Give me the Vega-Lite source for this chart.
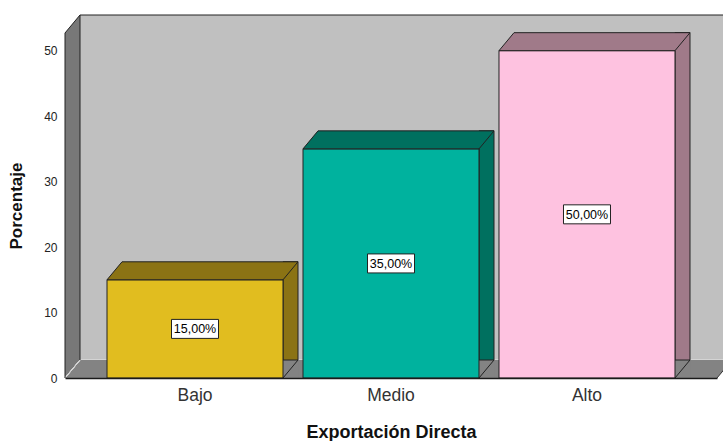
{
  "$schema": "https://vega.github.io/schema/vega-lite/v6.json",
  "width": 652,
  "height": 345,
  "autosize": {"type": "none"},
  "padding": {"left": 65, "top": 33, "right": 6, "bottom": 63},
  "background": "white",
  "config": {"view": {"stroke": null}, "font": "Liberation Sans"},
  "datasets": {
    "barras": [
      {"nivel": "Bajo", "porcentaje": 15, "etiqueta": "15,00%"},
      {"nivel": "Medio", "porcentaje": 35, "etiqueta": "35,00%"},
      {"nivel": "Alto", "porcentaje": 50, "etiqueta": "50,00%"}
    ],
    "marcas": [{"v": 0}, {"v": 10}, {"v": 20}, {"v": 30}, {"v": 40}, {"v": 50}],
    "uno": [{"k": 1}]
  },
  "resolve": {"scale": {"x": "independent", "y": "independent"}},
  "layer": [
    {
      "data": {"name": "uno"},
      "encoding": {
        "x": {"datum": 0, "type": "quantitative", "scale": {"domain": [0, 1], "nice": false, "zero": false}, "axis": null},
        "y": {"datum": 0, "type": "quantitative", "scale": {"domain": [0, 52.7], "nice": false}, "axis": null}
      },
      "layer": [
        {
          "mark": {"type": "rect", "fill": "#c0c0c0", "xOffset": 15, "x2Offset": 15, "yOffset": -18, "y2Offset": -18},
          "encoding": {"x2": {"datum": 1}, "y2": {"datum": 52.7}}
        },
        {
          "data": {"name": "marcas"},
          "transform": [{"filter": "datum.v > 0"}],
          "mark": {"type": "rule", "stroke": "#d4d4d4", "strokeWidth": 1, "xOffset": 15, "x2Offset": 15, "yOffset": -18},
          "encoding": {"x2": {"datum": 1}, "y": {"field": "v", "type": "quantitative"}}
        },
        {
          "mark": {"type": "rule", "stroke": "#222222", "strokeWidth": 1, "xOffset": 15, "x2Offset": 15, "yOffset": -18},
          "encoding": {"x2": {"datum": 1}, "y": {"datum": 52.7, "type": "quantitative"}}
        },
        {
          "mark": {"type": "point", "shape": "M0,0L652,0L667,-18L15,-18Z", "size": 4, "filled": true, "fill": "#838383", "strokeWidth": 0, "opacity": 1}
        },
        {
          "mark": {"type": "point", "shape": "M652,0L667,-18", "size": 4, "filled": false, "stroke": "#333333", "strokeWidth": 1, "opacity": 1}
        },
        {
          "mark": {"type": "point", "shape": "M0,0L0,-345L15,-363L15,-18Z", "size": 4, "filled": true, "fill": "#787878", "strokeWidth": 0, "opacity": 1}
        },
        {
          "data": {"name": "marcas"},
          "mark": {"type": "point", "shape": "M0,0L15,-18", "size": 4, "filled": false, "stroke": "#d4d4d4", "strokeWidth": 1, "opacity": 1},
          "encoding": {"y": {"field": "v", "type": "quantitative"}}
        },
        {
          "mark": {"type": "point", "shape": "M15,-18L15,-363L0,-345L0,0", "size": 4, "filled": false, "stroke": "#222222", "strokeWidth": 1, "opacity": 1}
        }
      ]
    },
    {
      "data": {"name": "barras"},
      "encoding": {
        "x": {
          "field": "nivel",
          "type": "nominal",
          "sort": ["Bajo", "Medio", "Alto"],
          "scale": {"paddingInner": 0.10204, "paddingOuter": 0.21429},
          "axis": {
            "title": "Exportación Directa",
            "titleFont": "Liberation Sans",
            "titleFontSize": 18,
            "titleFontWeight": "bold",
            "titleColor": "#111111",
            "titlePadding": 20,
            "labelFont": "Liberation Sans",
            "labelFontSize": 17.5,
            "labelColor": "#333333",
            "labelPadding": 8,
            "labelAngle": 0,
            "ticks": false,
            "domain": true,
            "domainColor": "#1a1a1a",
            "domainWidth": 1.5,
            "zindex": 1
          }
        }
      },
      "resolve": {"scale": {"y": "independent"}},
      "layer": [
        {
          "encoding": {
            "y": {
              "field": "porcentaje",
              "type": "quantitative",
              "scale": {"domain": [0, 52.7], "nice": false},
              "axis": {
                "orient": "left",
                "title": "Porcentaje",
                "titleFont": "Liberation Sans",
                "titleFontSize": 17,
                "titleFontWeight": "bold",
                "titleColor": "#111111",
                "titlePadding": 18,
                "labelFont": "Liberation Sans",
                "labelFontSize": 12,
                "labelColor": "#222222",
                "labelPadding": 8,
                "ticks": false,
                "domain": false,
                "grid": false,
                "values": [0, 10, 20, 30, 40, 50]
              }
            }
          },
          "layer": [
            {
              "mark": {"type": "bar", "width": 15, "xOffset": 95.5, "yOffset": -18, "stroke": "#222222", "strokeWidth": 1},
              "encoding": {
                "color": {"field": "nivel", "type": "nominal", "scale": {"domain": ["Bajo", "Medio", "Alto"], "range": ["#8b7314", "#00705f", "#a07a89"]}, "legend": null}
              }
            },
            {
              "mark": {"type": "point", "shape": "M88,0L103,-18L103.8,-18L103.8,0Z", "size": 4, "filled": true, "fill": "#838383", "strokeWidth": 0, "opacity": 1},
              "encoding": {"y": {"datum": 0, "type": "quantitative"}}
            },
            {
              "mark": {"type": "point", "shape": "M88,0L103,-18", "size": 4, "filled": false, "stroke": "#222222", "strokeWidth": 1, "opacity": 1},
              "encoding": {"y": {"datum": 0, "type": "quantitative"}}
            },
            {
              "mark": {"type": "bar", "stroke": "#222222", "strokeWidth": 1},
              "encoding": {
                "fill": {"field": "nivel", "type": "nominal", "scale": {"domain": ["Bajo", "Medio", "Alto"], "range": ["#e1bd1f", "#00b29e", "#fec2e0"]}, "legend": null}
              }
            },
            {
              "mark": {"type": "point", "shape": "M-88,0L88,0L103,-18L-73,-18Z", "size": 4, "filled": true, "stroke": "#222222", "strokeWidth": 1, "opacity": 1},
              "encoding": {
                "color": {"field": "nivel", "type": "nominal", "legend": null}
              }
            }
          ]
        },
        {
          "encoding": {
            "y": {"field": "porcentaje", "type": "quantitative", "scale": {"domain": [0, 105.4], "nice": false}, "axis": null}
          },
          "layer": [
            {
              "mark": {"type": "point", "shape": "M-23.5,-9.5L23.5,-9.5L23.5,9.5L-23.5,9.5Z", "size": 4, "filled": true, "fill": "white", "stroke": "#222222", "strokeWidth": 1, "opacity": 1}
            },
            {
              "mark": {"type": "text", "font": "Liberation Sans", "fontSize": 12.5, "color": "#000000", "align": "center", "baseline": "middle", "dy": 0.5},
              "encoding": {"text": {"field": "etiqueta"}}
            }
          ]
        }
      ]
    }
  ]
}
